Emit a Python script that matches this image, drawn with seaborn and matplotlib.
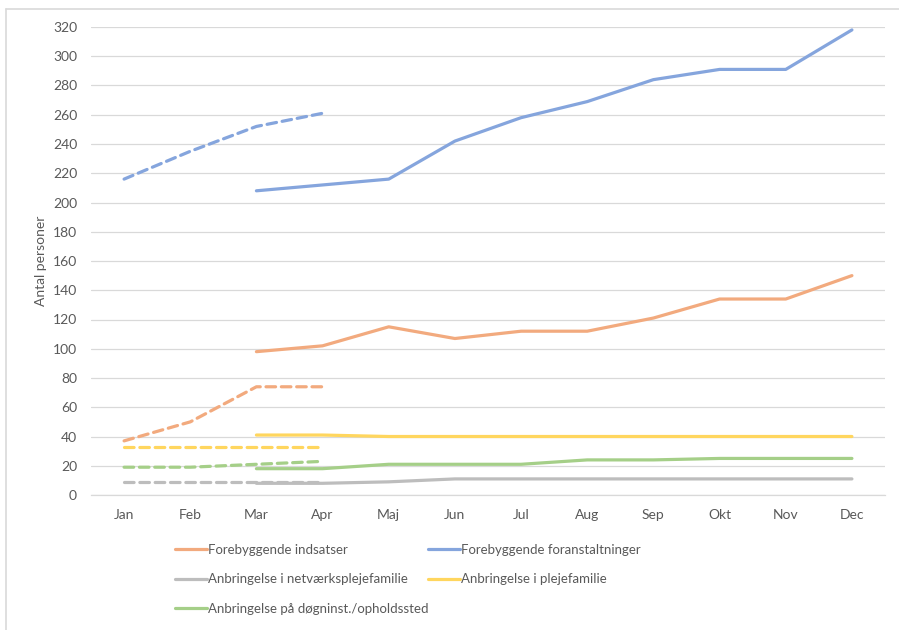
import numpy as np
import pandas as pd
import matplotlib
matplotlib.use("Agg")
import matplotlib.pyplot as plt
from matplotlib.lines import Line2D
import seaborn as sns

months = ["Jan", "Feb", "Mar", "Apr", "Maj", "Jun", "Jul", "Aug", "Sep", "Okt", "Nov", "Dec"]

series_names = [
    "Forebyggende indsatser",
    "Forebyggende foranstaltninger",
    "Anbringelse i netværksplejefamilie",
    "Anbringelse i plejefamilie",
    "Anbringelse på døgninst./opholdssted",
]
colors = ["#F2AA7E", "#85A5DD", "#BDBDBD", "#FFD65E", "#A5CF88"]

# current year, Mar..Dec
current_months = months[2:]
indsatser = [98, 102, 115, 107, 112, 112, 121, 134, 134, 150]
foranstaltninger = [208, 212, 216, 242, 258, 269, 284, 291, 291, 318]
netvaerk = [8, 8, 9, 11, 11, 11, 11, 11, 11, 11]
plejefamilie = [41, 41, 40, 40, 40, 40, 40, 40, 40, 40]
doegninst = [18, 18, 21, 21, 21, 24, 24, 25, 25, 25]

# previous year, Jan..Apr (dashed)
prior_months = months[:4]
indsatser_prior = [37, 50, 74, 74]
foranstaltninger_prior = [216, 235, 252, 261]
netvaerk_prior = [9, 9, 9, 9]
plejefamilie_prior = [33, 33, 33, 33]
doegninst_prior = [19, 19, 21, 23]

current = [indsatser, foranstaltninger, netvaerk, plejefamilie, doegninst]
prior = [indsatser_prior, foranstaltninger_prior, netvaerk_prior, plejefamilie_prior, doegninst_prior]

rows = []
for name, cur, prv in zip(series_names, current, prior):
    for m, v in zip(current_months, cur):
        rows.append({"month": m, "value": v, "serie": name, "periode": "nu"})
    for m, v in zip(prior_months, prv):
        rows.append({"month": m, "value": v, "serie": name, "periode": "før"})
df = pd.DataFrame(rows)
df["x"] = df["month"].map({m: i for i, m in enumerate(months)})

sns.set_style("white")
plt.rcParams["font.family"] = ["Lato", "DejaVu Sans"]

fig = plt.figure(figsize=(8.99, 6.30), dpi=100)
ax = fig.add_axes([91 / 899, 1 - 495 / 630, 794 / 899, 468 / 630])

palette = dict(zip(series_names, colors))
sns.lineplot(data=df, x="x", y="value", hue="serie", style="periode",
             units="serie", estimator=None, sort=True,
             palette=palette, dashes={"nu": "", "før": (3, 1.8)},
             linewidth=2.3, legend=False, ax=ax)
for ln in ax.get_lines():
    ln.set_solid_capstyle("round")
    ln.set_dash_capstyle("round")

ax.set_xlim(-0.5, len(months) - 0.5)
ax.set_ylim(0, 320)
ax.set_yticks(np.arange(0, 321, 20))
ax.set_xticks(range(len(months)))
ax.set_xticklabels(months)
ax.set_xticks(np.arange(-0.5, len(months), 1), minor=True)
ax.tick_params(axis="x", which="major", length=0, pad=10, labelsize=10, labelcolor="#595959")
ax.tick_params(axis="x", which="minor", length=5, width=0.8, color="#D9D9D9", direction="out")
ax.tick_params(axis="y", length=0, pad=10, labelsize=10, labelcolor="#595959")
ax.yaxis.grid(True, color="#D9D9D9", linewidth=0.9)
ax.set_axisbelow(True)
for s in ["left", "top", "right"]:
    ax.spines[s].set_visible(False)
ax.spines["bottom"].set_color("#D9D9D9")
ax.spines["bottom"].set_linewidth(0.9)

ax.set_xlabel("")
ax.set_ylabel("Antal personer", fontsize=10, color="#595959")
ax.yaxis.set_label_coords(-0.055, 0.5)

handles = [Line2D([], [], color=c, lw=2.3) for c in colors]
order = [0, 2, 4, 1, 3]
fig.legend([handles[i] for i in order], [series_names[i] for i in order],
           ncol=2, loc="upper left", bbox_to_anchor=(175 / 899, 1 - 544 / 630),
           frameon=False, fontsize=9.5, handlelength=2.4, handletextpad=0.1,
           labelspacing=1.32, columnspacing=0.0, borderpad=0, borderaxespad=0,
           labelcolor="#595959")

# chart frame
fig.add_artist(Line2D([6 / 899, 6 / 899], [0, 1 - 9 / 630], color="#D9D9D9", lw=1.2,
                      transform=fig.transFigure))
fig.add_artist(Line2D([6 / 899, 1], [1 - 9 / 630, 1 - 9 / 630], color="#D9D9D9", lw=1.2,
                      transform=fig.transFigure))

fig.savefig("out.png", dpi=100)
